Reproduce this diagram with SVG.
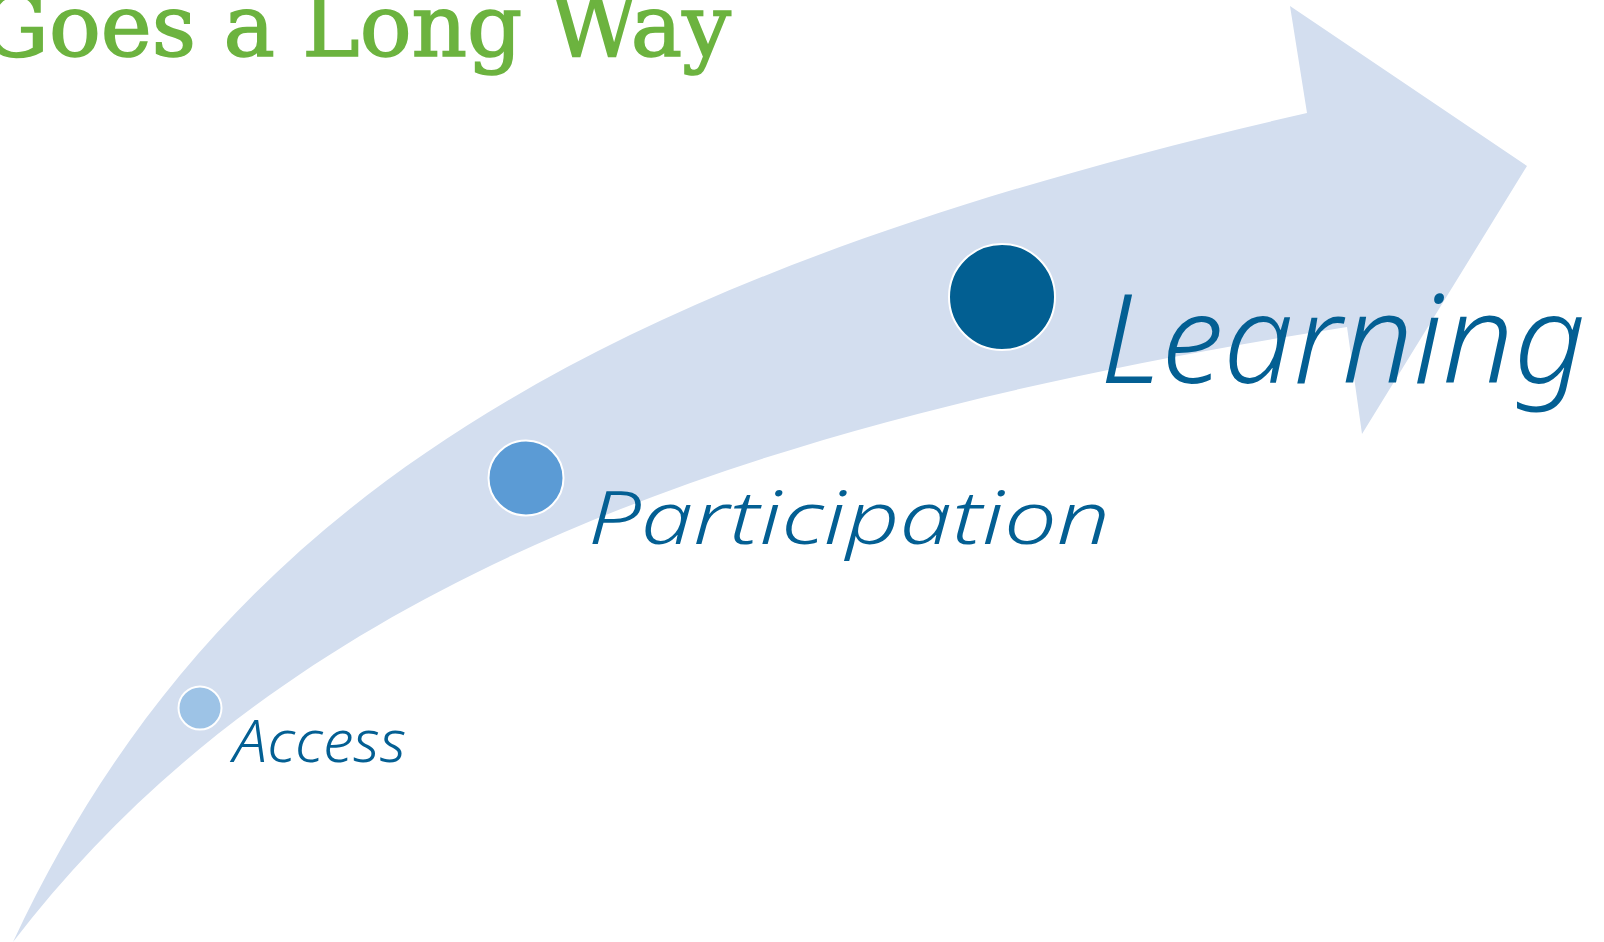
<svg xmlns="http://www.w3.org/2000/svg" width="1604" height="942" viewBox="0 0 1604 942">
  <style>
    .band { fill: #d3deef; }
    .dot { stroke: #ffffff; stroke-width: 2; }
    .hand { font-family: "Noto Sans", "DejaVu Sans", sans-serif; font-style: italic; font-weight: 300; fill: #035f93; }
    .title { font-family: "DejaVu Serif", "Liberation Serif", serif; font-weight: normal; fill: #6cb33f; stroke: #6cb33f; stroke-width: 1.6; }
  </style>

  <rect width="1604" height="942" fill="#ffffff"/>

  <!-- Title, partly running off the top-left edge -->
  <g id="title">
    <text class="title" x="-20" y="56" font-size="86" textLength="751" lengthAdjust="spacingAndGlyphs">Goes a Long Way</text>
  </g>

  <!-- Curved progress arrow -->
  <g id="connectors">
    <path class="band" d="M13,942 C219,501 596,276 1307,113 L1290,6 L1527,166 L1362,434 L1347,327 C721,425 280,593 13,942 Z"/>
  </g>

  <!-- Stage: Access -->
  <g id="access">
    <circle class="dot" cx="200" cy="708" r="21.5" fill="#9dc3e6"/>
    <text class="hand" x="233" y="762" font-size="58" textLength="173" lengthAdjust="spacingAndGlyphs" fill="#0b5385">Access</text>
  </g>

  <!-- Stage: Participation -->
  <g id="participation">
    <circle class="dot" cx="526" cy="478" r="37.5" fill="#5b9bd5"/>
    <text class="hand" x="588" y="544" font-size="74" textLength="522" lengthAdjust="spacingAndGlyphs">Participation</text>
  </g>

  <!-- Stage: Learning -->
  <g id="learning">
    <circle class="dot" cx="1002" cy="297" r="53" fill="#025f92"/>
    <text class="hand" x="1100" y="383" font-size="123" textLength="486" lengthAdjust="spacingAndGlyphs">Learning</text>
  </g>
</svg>
